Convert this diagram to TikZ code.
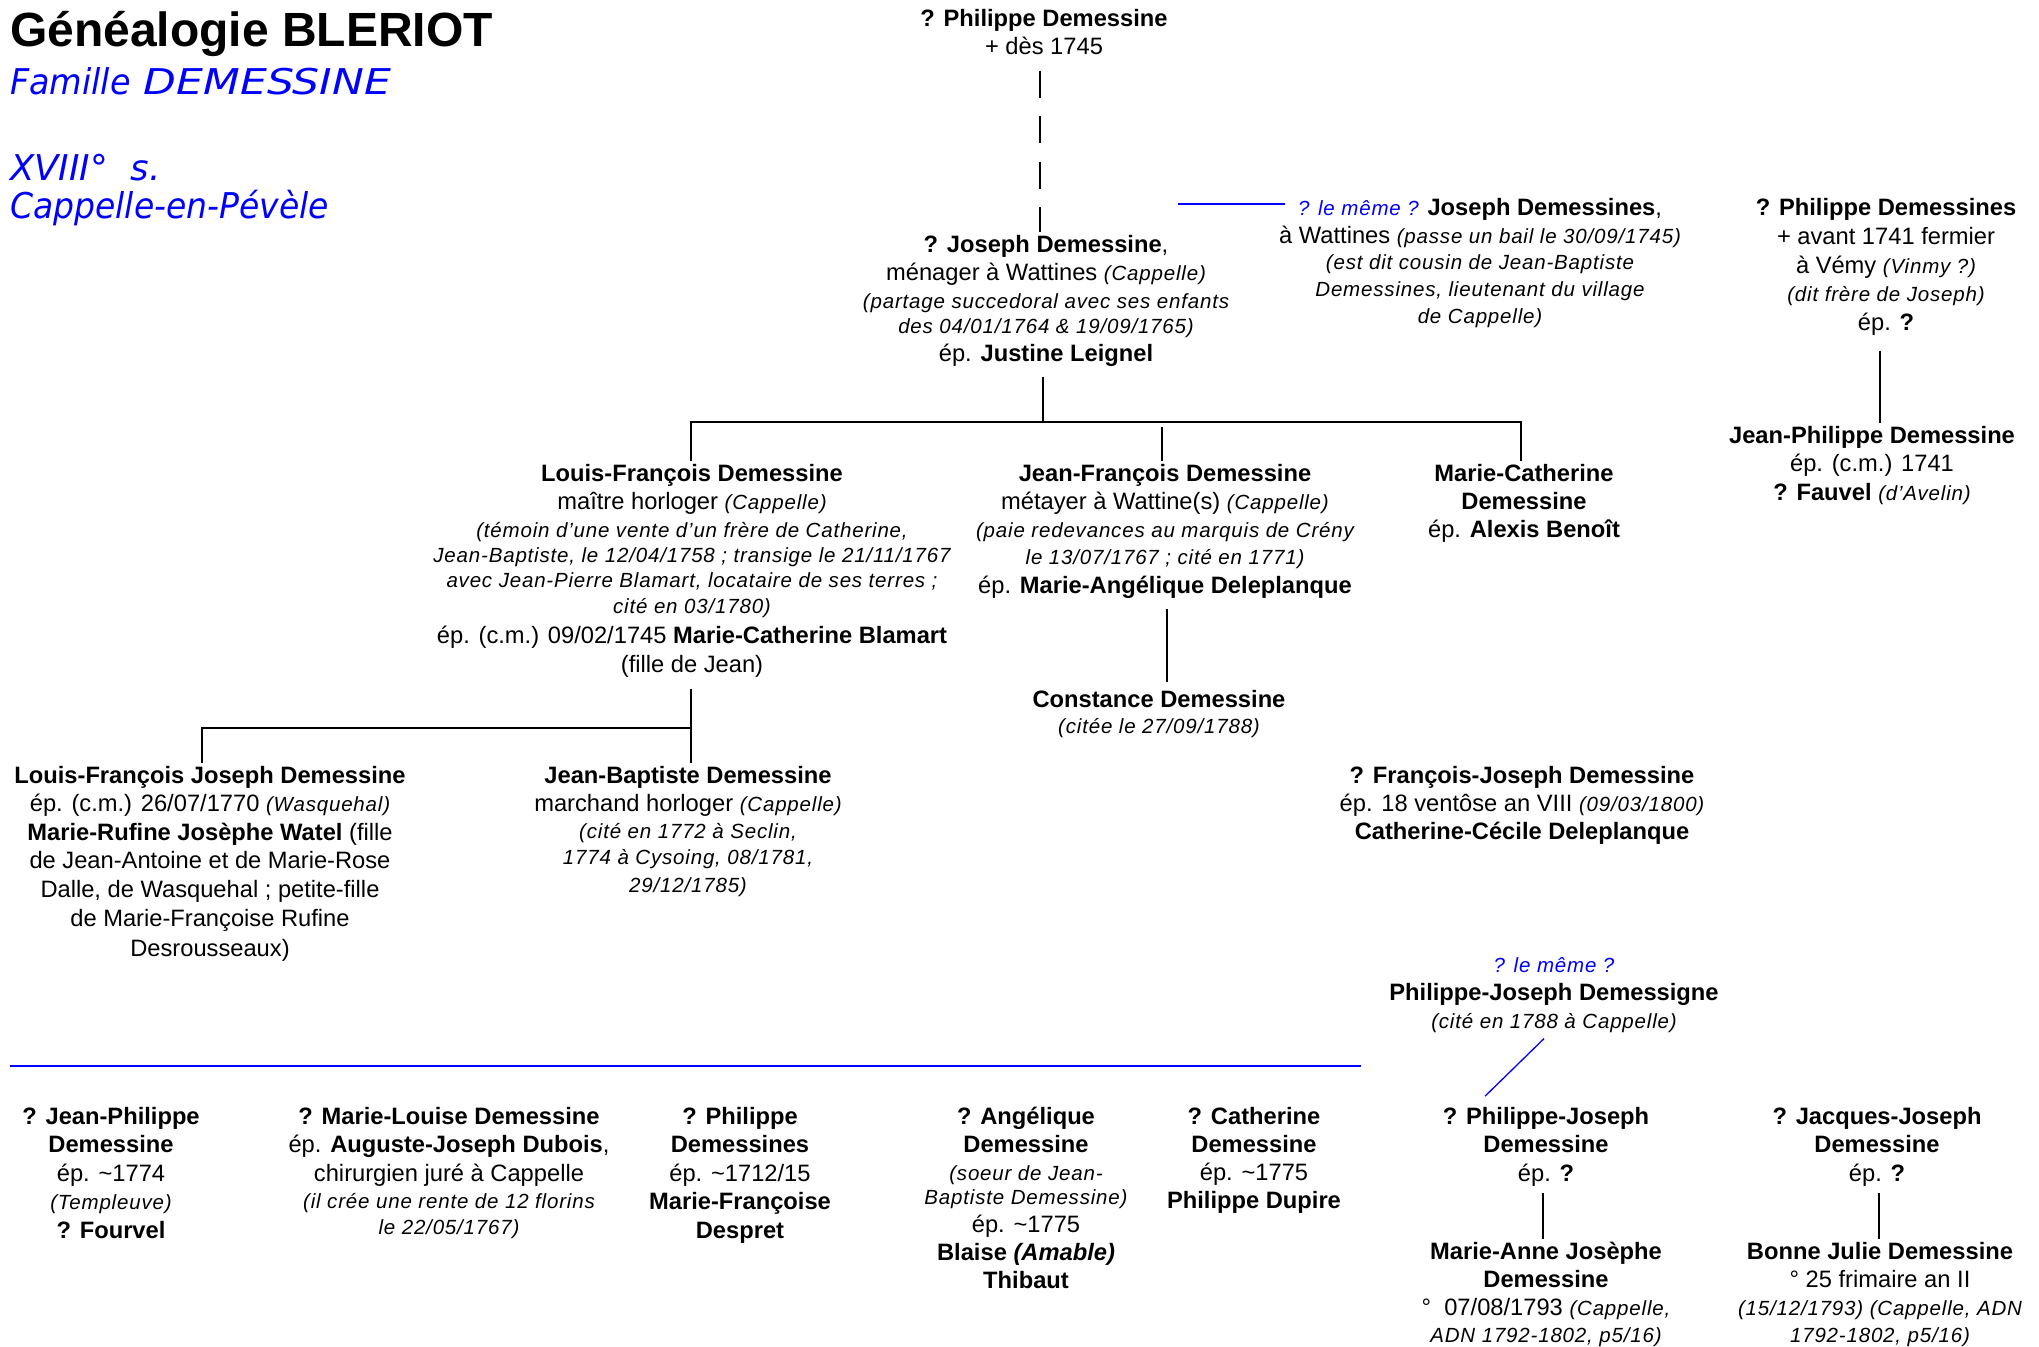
\documentclass[tikz,border=0pt]{standalone}
\usepackage{graphicx}
\usepackage{fontspec}
\setmainfont{Liberation Sans}
\newfontfamily\itf{Liberation Sans}[LetterSpace=4]
\newfontfamily\vfont{DejaVu Sans}
\definecolor{pureblue}{RGB}{0,0,255}
\newcommand{\nt}{\fontsize{23.7}{28}\selectfont}
\newcommand{\ii}[1]{{\itf\fontsize{20.5}{28}\selectfont\itshape #1}}
\newcommand{\bq}[1]{{\color{pureblue}\ii{#1}}}
\newcommand{\pp}[1]{\begin{tabular}[t]{@{}c@{}}#1\end{tabular}}
\tikzset{
  pn/.style={anchor=base, inner sep=0pt, font=\nt},
  conn/.style={line width=2.6pt, black},
  dashconn/.style={line width=2.6pt, black, dash pattern=on 27pt off 18.5pt},
  bl/.style={line width=1.3pt, pureblue},
  ttl/.style={anchor=base west, inner sep=0pt, text=pureblue, font=\vfont\itshape\fontsize{35.5}{40}\selectfont}
}
\begin{document}
\begin{tikzpicture}[x=1pt,y=-1pt]
\fill[white] (0,0) rectangle (2039,1346);
\useasboundingbox (0,0) rectangle (2039,1346);
% titles
\node[anchor=base west, inner sep=0pt, font=\fontsize{48}{56}\selectfont\bfseries] (title) at (10,47) {Généalogie BLERIOT};
\node[ttl] (fam) at (10,94) {\scalebox{0.94}[1]{Famille}\hspace{13pt}\scalebox{1.2}[1]{DEMESSINE}};
\node[ttl] (sie) at (10,180) {XVIII°\ \ s.};
\node[ttl] (cap) at (10,218) {\scalebox{0.93}[1]{Cappelle-en-Pévèle}};
% top
\node[pn] (p0) at (1044,27) {\pp{\textbf{? Philippe Demessine}\\+ dès 1745}};
\node[pn] (j) at (1046,252) {\pp{\textbf{? Joseph Demessine},\\
ménager à Wattines \ii{(Cappelle)}\\
\ii{(partage succedoral avec ses enfants}\\[-3pt]
\ii{des 04/01/1764 \& 19/09/1765)}\\
ép. \textbf{Justine Leignel}}};
\node[pn] (jd) at (1480,215) {\pp{\bq{? le même ?} \textbf{Joseph Demessines},\\
à Wattines \ii{(passe un bail le 30/09/1745)}\\[-2pt]
\ii{(est dit cousin de Jean-Baptiste}\\[-1pt]
\ii{Demessines, lieutenant du village}\\[-1pt]
\ii{de Cappelle)}}};
\node[pn] (pd) at (1886,215) {\pp{\textbf{? Philippe Demessines}\\[1pt]
+ avant 1741 fermier\\[1pt]
à Vémy \ii{(Vinmy ?)}\\[0pt]
\ii{(dit frère de Joseph)}\\[1pt]
ép. \textbf{?}}};
\node[pn] (jp) at (1872,443) {\pp{\textbf{Jean-Philippe Demessine}\\[0pt]
ép. (c.m.) 1741\\[1pt]
\textbf{? Fauvel} \ii{(d’Avelin)}}};
% children of Joseph
\node[pn] (lf) at (692,481) {\pp{\textbf{Louis-François Demessine}\\
maître horloger \ii{(Cappelle)}\\
\ii{(témoin d’une vente d’un frère de Catherine,}\\[-3pt]
\ii{Jean-Baptiste, le 12/04/1758 ; transige le 21/11/1767}\\[-3pt]
\ii{avec Jean-Pierre Blamart, locataire de ses terres ;}\\[-2pt]
\ii{cité en 03/1780)}\\[2pt]
ép. (c.m.) 09/02/1745 \textbf{Marie-Catherine Blamart}\\[1pt]
(fille de Jean)}};
\node[pn] (jf) at (1165,481) {\pp{\textbf{Jean-François Demessine}\\
métayer à Wattine(s) \ii{(Cappelle)}\\
\ii{(paie redevances au marquis de Crény}\\[-1pt]
\ii{le 13/07/1767 ; cité en 1771)}\\[1pt]
ép. \textbf{Marie-Angélique Deleplanque}}};
\node[pn] (mc) at (1524,481) {\pp{\textbf{Marie-Catherine}\\\textbf{Demessine}\\ép. \textbf{Alexis Benoît}}};
\node[pn] (cons) at (1159,707) {\pp{\textbf{Constance Demessine}\\[-2pt]\ii{(citée le 27/09/1788)}}};
% children of Louis-François
\node[pn] (lfj) at (210,783) {\pp{\textbf{Louis-François Joseph Demessine}\\[0.6pt]
ép. (c.m.) 26/07/1770 \ii{(Wasquehal)}\\[0.6pt]
\textbf{Marie-Rufine Josèphe Watel} (fille\\[0.6pt]
de Jean-Antoine et de Marie-Rose\\[0.6pt]
Dalle, de Wasquehal ; petite-fille\\[0.6pt]
de Marie-Françoise Rufine\\[2.5pt]
Desrousseaux)}};
\node[pn] (jb) at (688,783) {\pp{\textbf{Jean-Baptiste Demessine}\\
marchand horloger \ii{(Cappelle)}\\[-1pt]
\ii{(cité en 1772 à Seclin,}\\[-2pt]
\ii{1774 à Cysoing, 08/1781,}\\
\ii{29/12/1785)}}};
\node[pn] (fj) at (1522,783) {\pp{\textbf{? François-Joseph Demessine}\\
ép. 18 ventôse an VIII \ii{(09/03/1800)}\\
\textbf{Catherine-Cécile Deleplanque}}};
\node[pn] (pjd) at (1554,972) {\pp{\bq{? le même ?}\\
\textbf{Philippe-Joseph Demessigne}\\
\ii{(cité en 1788 à Cappelle)}}};
% bottom row
\node[pn] (b1) at (111,1124) {\pp{\textbf{? Jean-Philippe}\\\textbf{Demessine}\\[1pt]ép. \textasciitilde1774\\\ii{(Templeuve)}\\[1pt]\textbf{? Fourvel}}};
\node[pn] (b2) at (449,1124) {\pp{\textbf{? Marie-Louise Demessine}\\ép. \textbf{Auguste-Joseph Dubois},\\[1pt]chirurgien juré à Cappelle\\[-1pt]\ii{(il crée une rente de 12 florins}\\[-2pt]\ii{le 22/05/1767)}}};
\node[pn] (b3) at (740,1124) {\pp{\textbf{? Philippe}\\\textbf{Demessines}\\[1pt]ép. \textasciitilde1712/15\\\textbf{Marie-Françoise}\\[1pt]\textbf{Despret}}};
\node[pn] (b4) at (1026,1124) {\pp{\textbf{? Angélique}\\\textbf{Demessine}\\\ii{(soeur de Jean-}\\[-4pt]\ii{Baptiste Demessine)}\\ép. \textasciitilde1775\\\textbf{Blaise \textit{(Amable)}}\\\textbf{Thibaut}}};
\node[pn] (b5) at (1254,1124) {\pp{\textbf{? Catherine}\\\textbf{Demessine}\\ép. \textasciitilde1775\\\textbf{Philippe Dupire}}};
\node[pn] (pj2) at (1546,1124) {\pp{\textbf{? Philippe-Joseph}\\\textbf{Demessine}\\[1pt]ép. \textbf{?}}};
\node[pn] (jj) at (1877,1124) {\pp{\textbf{? Jacques-Joseph}\\\textbf{Demessine}\\[1pt]ép. \textbf{?}}};
\node[pn] (ma) at (1546,1259) {\pp{\textbf{Marie-Anne Josèphe}\\\textbf{Demessine}\\°\ \ 07/08/1793 \ii{(Cappelle,}\\[-1pt]\ii{ADN 1792-1802, p5/16)}}};
\node[pn] (bj) at (1880,1259) {\pp{\textbf{Bonne Julie Demessine}\\° 25 frimaire an II\\\ii{(15/12/1793) (Cappelle, ADN}\\[-1pt]\ii{1792-1802, p5/16)}}};
% connectors
\coordinate (fork1) at (1043,422);
\coordinate (fork2) at (691,728);
\draw[dashconn] ([xshift=-4pt,yshift=-7pt]p0.south) -- ([xshift=-6pt]j.north);
\draw[conn] ([xshift=-3pt,yshift=-7pt]j.south) -- (fork1);
\draw[conn] ([xshift=-1pt]lf.north) -- ([xshift=-1pt]lf.north |- fork1) -- ([xshift=-3pt]mc.north |- fork1) -- ([xshift=-3pt]mc.north);
\draw[conn] ([xshift=-3pt]jf.north) -- ([xshift=-3pt,yshift=-5pt]jf.north |- fork1);
\draw[conn, shorten >=5pt] ([xshift=2pt,yshift=-7pt]jf.south) -- ([xshift=2pt]jf.south |- cons.north);
\draw[conn] ([xshift=-1pt,yshift=-8pt]lf.south) -- (fork2) -- ([xshift=-8pt]lfj.north |- fork2) -- ([xshift=-8pt]lfj.north);
\draw[conn] (fork2) -- ([xshift=3pt]jb.north);
\draw[conn] ([xshift=-6pt,yshift=-12pt]pd.south) -- ([xshift=-6pt]pd.south |- jp.north);
\draw[conn] ([xshift=-3pt,yshift=-3pt]pj2.south) -- ([xshift=-3pt]pj2.south |- ma.north);
\draw[conn] ([xshift=2pt,yshift=-3pt]jj.south) -- ([xshift=2pt]jj.south |- bj.north);
% blue lines
\coordinate (bla) at (1178,204);
\coordinate (blb) at (1285,204);
\draw[bl] (bla) -- (blb);
\coordinate (hla) at (10,1066);
\coordinate (hlb) at (1361,1066);
\draw[bl] (hla) -- (hlb);
\draw[bl] ([xshift=-10pt,yshift=-2pt]pjd.south) -- ([xshift=-61pt,yshift=8pt]pj2.north);
\end{tikzpicture}
\end{document}
